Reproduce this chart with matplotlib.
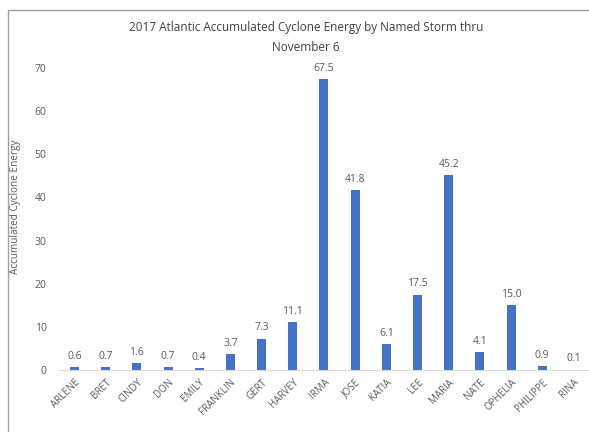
import matplotlib.pyplot as plt
from matplotlib.patches import Rectangle

storms = ["ARLENE", "BRET", "CINDY", "DON", "EMILY", "FRANKLIN", "GERT", "HARVEY",
          "IRMA", "JOSE", "KATIA", "LEE", "MARIA", "NATE", "OPHELIA", "PHILIPPE", "RINA"]
ace = [0.6, 0.7, 1.6, 0.7, 0.4, 3.7, 7.3, 11.1, 67.5, 41.8, 6.1, 17.5, 45.2, 4.1, 15.0, 0.9, 0.1]

plt.rcParams['font.family'] = ['Open Sans', 'DejaVu Sans']
text_c = '#595959'

fig = plt.figure(figsize=(5.89, 4.32), dpi=100)
ax = fig.add_axes([0.100, 0.1435, 0.90, 0.699])

x = range(len(storms))
ax.bar(x, ace, width=0.29, color='#4472C4')
for xi, v in zip(x, ace):
    ax.text(xi, v + 1.2, f"{v:.1f}", ha='center', va='bottom', fontsize=7.5, color=text_c)

ax.set_xlim(-0.5, 16.5)
ax.set_ylim(0, 70)
ax.set_yticks(range(0, 71, 10))
ax.set_xticks(list(x))
ax.set_xticklabels(storms, rotation=45, ha='right', rotation_mode='anchor', fontsize=7, color=text_c)
ax.tick_params(axis='y', length=0, labelsize=7.5, labelcolor=text_c, pad=9)
ax.tick_params(axis='x', length=0, pad=5)
for s in ['top', 'right', 'left']:
    ax.spines[s].set_visible(False)
ax.spines['bottom'].set_color('#d9d9d9')
ax.set_ylabel("Accumulated Cyclone Energy", fontsize=7.2, color=text_c)
ax.yaxis.set_label_coords(-0.072, 0.54)

fig.text(0.52, 0.937, "2017 Atlantic Accumulated Cyclone Energy by Named Storm thru",
         ha='center', va='center', fontsize=8.5, color='#404040')
fig.text(0.52, 0.890, "November 6", ha='center', va='center', fontsize=8.5, color='#404040')

fig.patches.append(Rectangle((8 / 589, -0.01), 0.99, (432 - 10) / 432 + 0.01,
                             transform=fig.transFigure, fill=False, edgecolor='#a0a0a0', lw=1))

fig.savefig("out.png", dpi=100)
